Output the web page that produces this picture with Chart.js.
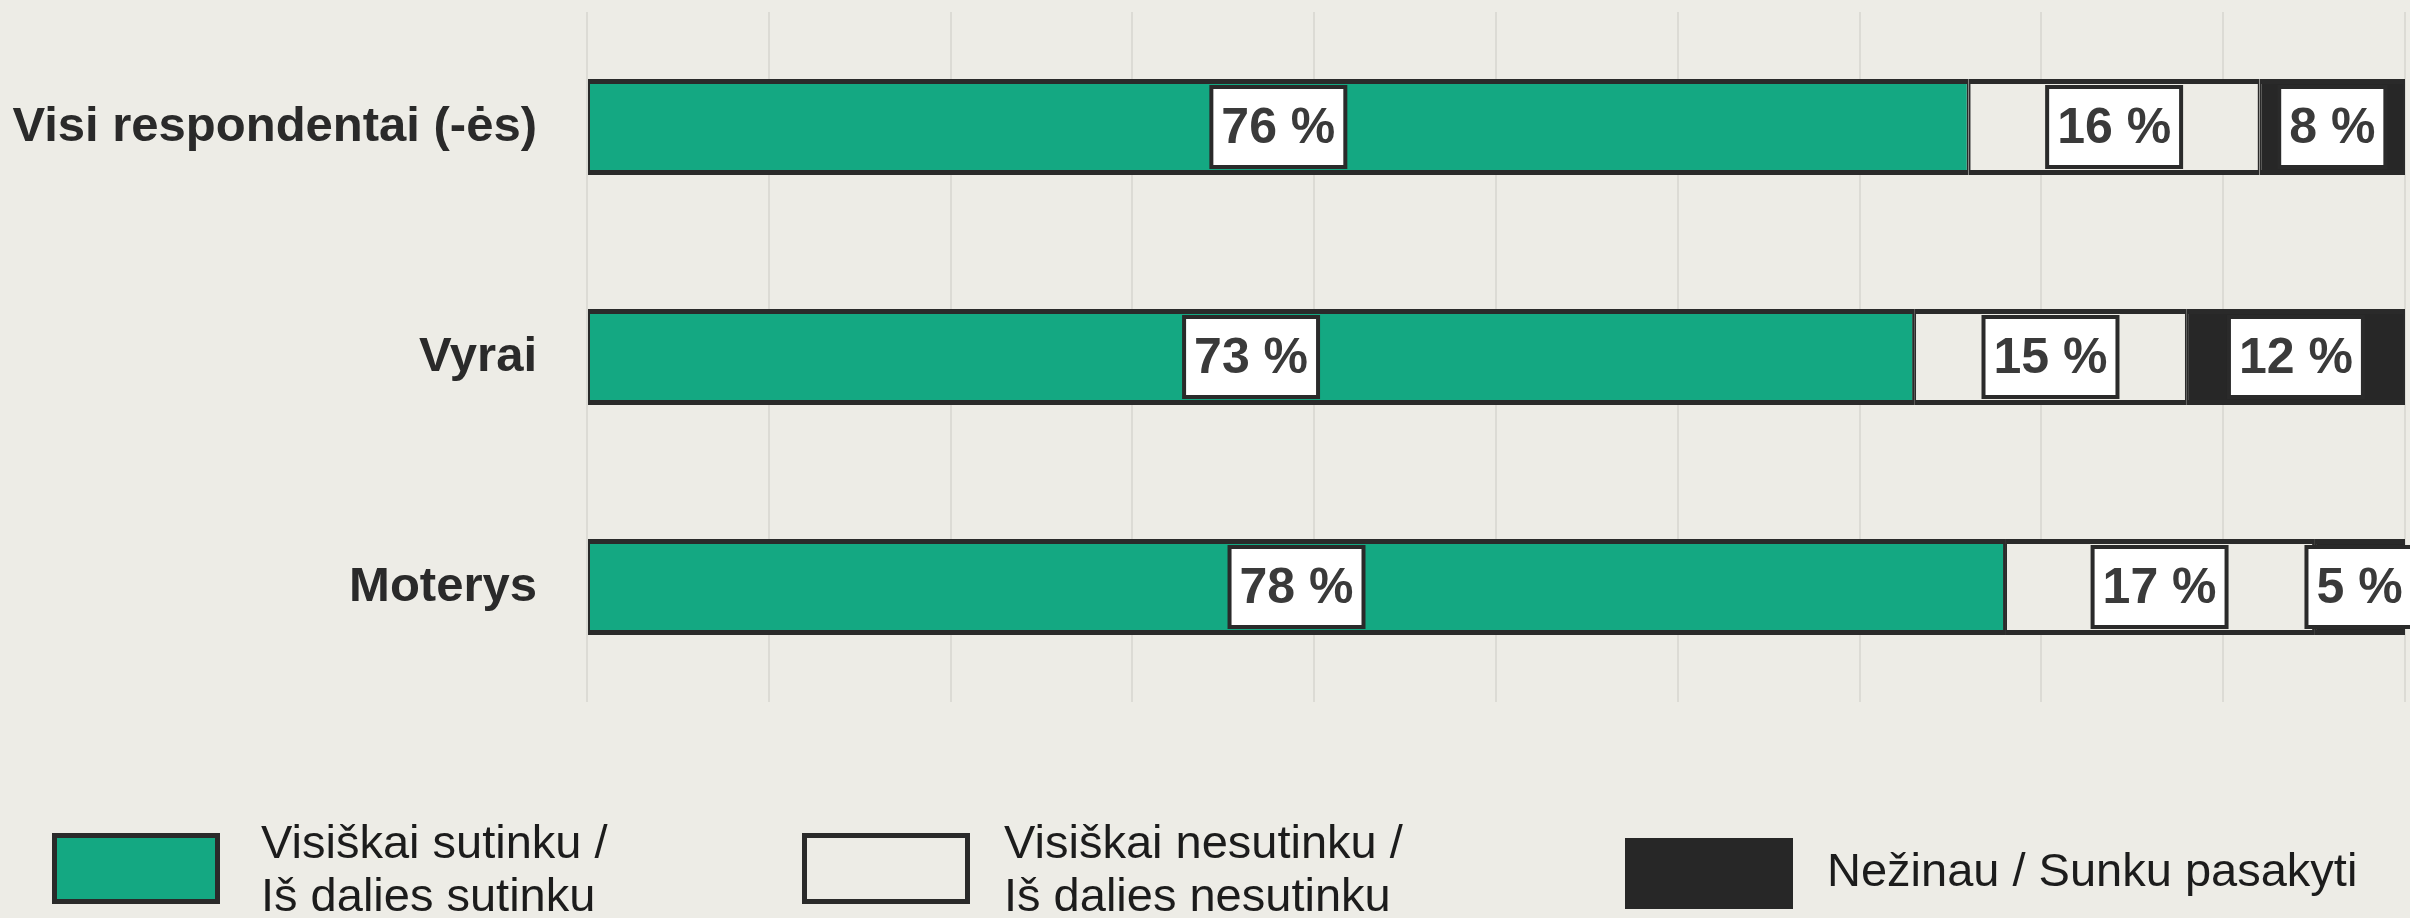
<!DOCTYPE html>
<html>
<head>
<meta charset="utf-8">
<script src="https://cdn.jsdelivr.net/npm/chart.js@4.4.0/dist/chart.umd.min.js"></script>
<style>
    html, body { margin: 0; padding: 0; background: #edece6; }
    #wrap { position: relative; width: 2410px; height: 918px; overflow: hidden; }
    #chart-box { position: absolute; left: 0; top: 0; width: 2410px; height: 918px; }
    .lg-box { position: absolute; box-sizing: border-box; width: 168px; height: 71px; }
    .lg-text { position: absolute; font-family: "Liberation Sans", Arial, sans-serif; font-size: 47px; line-height: 53px; color: #1c1c1c; white-space: nowrap; }
</style>
</head>
<body>
<div id="wrap">
    <div id="chart-box"><canvas id="chart"></canvas></div>

    <div class="lg-box" style="left:52px; top:833px; background:#14a882; border:5px solid #2a2a2a;"></div>
    <div class="lg-text" style="left:261px; top:815px;">Visiškai sutinku /<br>Iš dalies sutinku</div>

    <div class="lg-box" style="left:802px; top:833px; background:#edece6; border:5px solid #2a2a2a;"></div>
    <div class="lg-text" style="left:1004px; top:815px;">Visiškai nesutinku /<br>Iš dalies nesutinku</div>

    <div class="lg-box" style="left:1625px; top:838px; background:#272727;"></div>
    <div class="lg-text" style="left:1827px; top:843px;">Nežinau / Sunku pasakyti</div>
</div>

<script>
    const categories = ["Visi respondentai (-ės)", "Vyrai", "Moterys"];
    const seriesNames = ["Visiškai sutinku / Iš dalies sutinku", "Visiškai nesutinku / Iš dalies nesutinku", "Nežinau / Sunku pasakyti"];
    const agree = [76, 73, 78];
    const disagree = [16, 15, 17];
    const dontKnow = [8, 12, 5];

    const BG = "#edece6";
    const DARK = "#2a2a2a";
    const FONT = "'Liberation Sans', Arial, sans-serif";

    // white boxed value labels in the middle of each segment
    const boxLabels = {
        id: "boxLabels",
        afterDatasetsDraw: function (chart) {
            const ctx = chart.ctx;
            ctx.save();
            ctx.font = "bold 50px " + FONT;
            ctx.textAlign = "center";
            ctx.textBaseline = "middle";
            chart.data.datasets.forEach(function (ds, i) {
                const meta = chart.getDatasetMeta(i);
                meta.data.forEach(function (el, j) {
                    const p = el.getProps(["x", "y", "base"], true);
                    const cx = (p.x + p.base) / 2;
                    const txt = ds.data[j] + " %";
                    const w = ctx.measureText(txt).width + 20;
                    const h = 80;
                    ctx.fillStyle = "#ffffff";
                    ctx.fillRect(cx - w / 2, p.y - h / 2, w, h);
                    ctx.lineWidth = 4;
                    ctx.strokeStyle = DARK;
                    ctx.strokeRect(cx - w / 2, p.y - h / 2, w, h);
                    ctx.fillStyle = "#3a3a3a";
                    ctx.fillText(txt, cx, p.y + 2);
                });
            });
            ctx.restore();
        }
    };

    const border = { top: 5, bottom: 5, left: 2, right: 2 };

    new Chart(document.getElementById("chart").getContext("2d"), {
        type: "bar",
        data: {
            labels: categories,
            datasets: [
                { label: seriesNames[0], data: agree, backgroundColor: "#14a882", borderColor: DARK, borderWidth: border, borderSkipped: false },
                { label: seriesNames[1], data: disagree, backgroundColor: BG, borderColor: DARK, borderWidth: border, borderSkipped: false },
                { label: seriesNames[2], data: dontKnow, backgroundColor: "#272727", borderColor: DARK, borderWidth: border, borderSkipped: false }
            ]
        },
        options: {
            indexAxis: "y",
            responsive: true,
            maintainAspectRatio: false,
            animation: false,
            layout: { padding: { top: 12, bottom: 216, left: 0, right: 5 } },
            datasets: { bar: { categoryPercentage: 1, barPercentage: 0.417 } },
            scales: {
                x: {
                    stacked: true,
                    min: 0,
                    max: 100,
                    ticks: { display: false, stepSize: 10 },
                    grid: { color: "#dcdbd5", lineWidth: 2, drawTicks: false },
                    border: { display: false }
                },
                y: {
                    stacked: true,
                    grid: { display: false, drawTicks: false },
                    border: { display: false },
                    ticks: { color: DARK, padding: 50, font: { family: FONT, size: 49, weight: "bold" } },
                    afterFit: function (scale) {
                        scale.width = 587;
                        scale.paddingTop = 0;
                        scale.paddingBottom = 0;
                    }
                }
            },
            plugins: {
                legend: { display: false },
                tooltip: { enabled: false }
            }
        },
        plugins: [boxLabels]
    });
</script>
</body>
</html>
